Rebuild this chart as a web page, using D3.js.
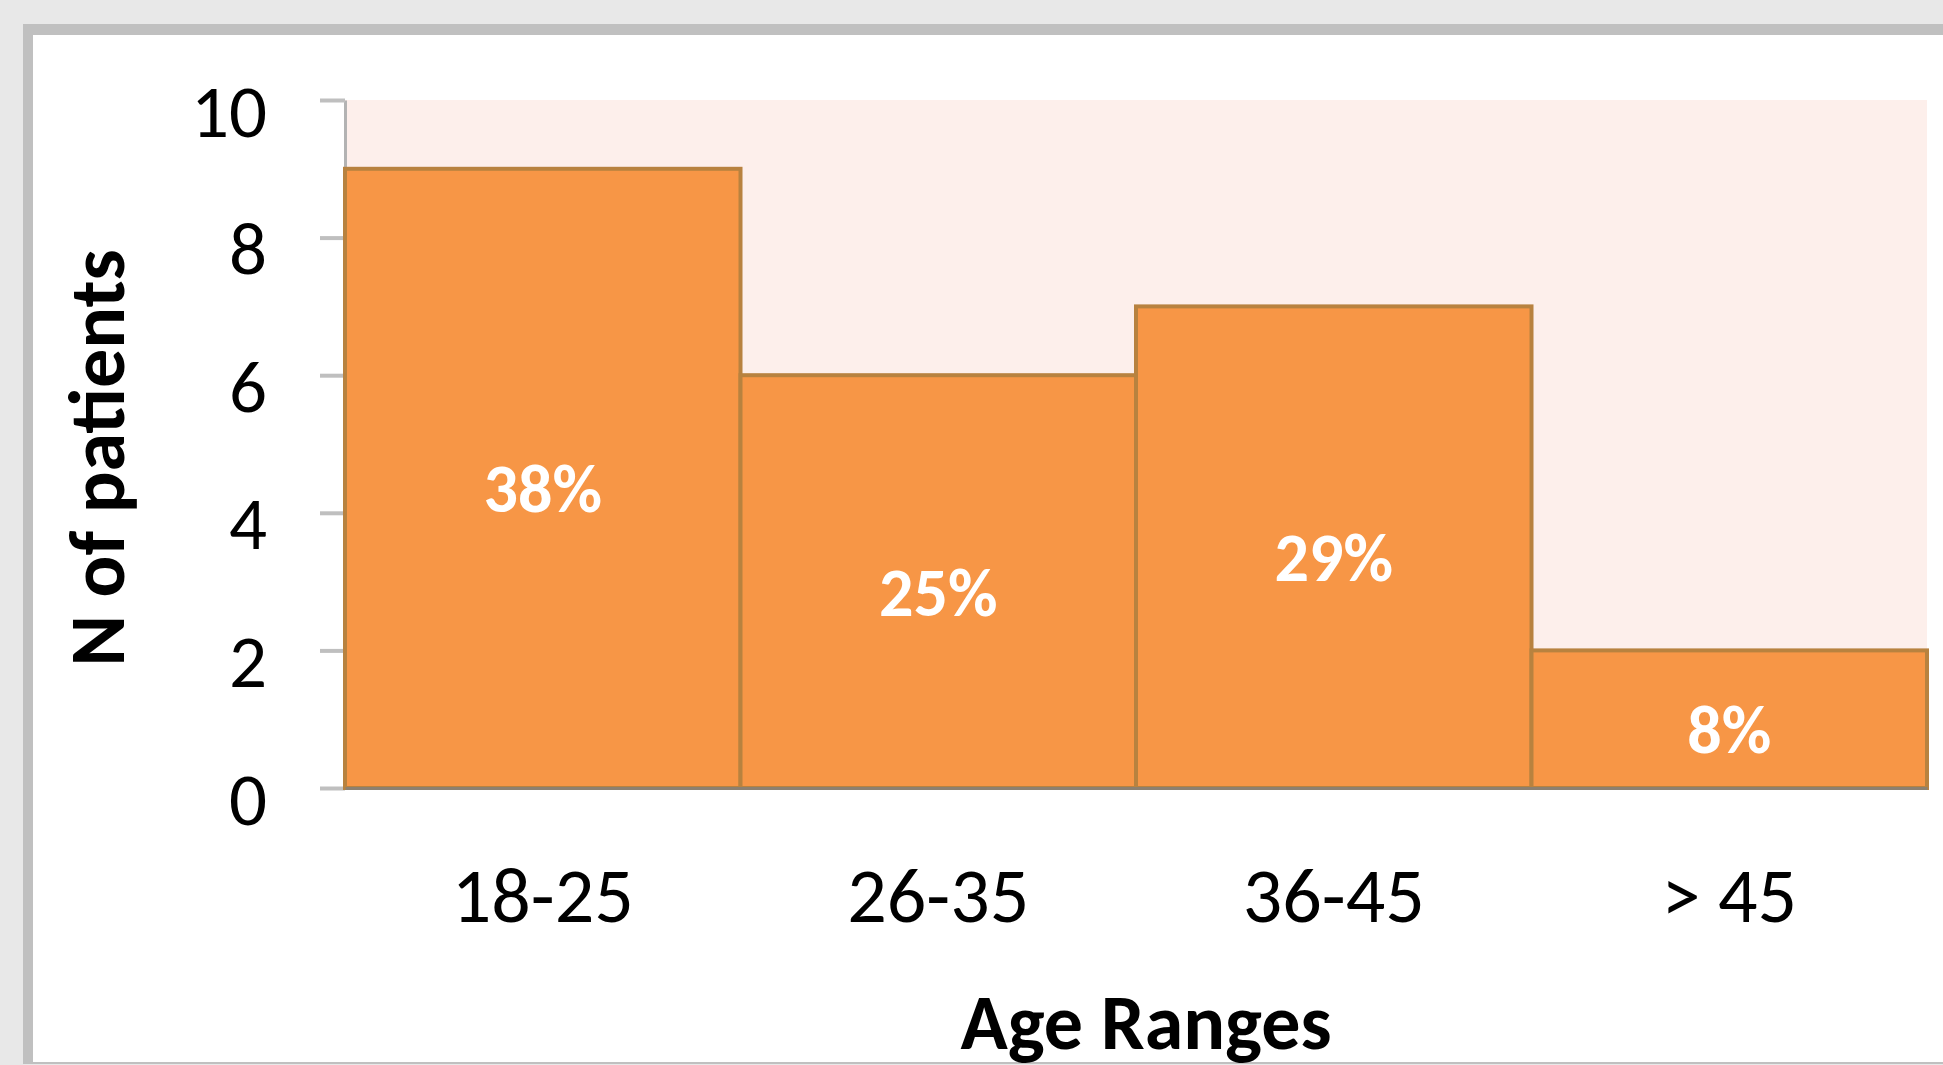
<!DOCTYPE html>
<html>
<head>
<meta charset="utf-8">
<script src="https://cdn.jsdelivr.net/npm/d3@7"></script>
<style>
  html, body { margin: 0; padding: 0; background: #e8e8e8; }
  svg { display: block; }
  text { font-family: Carlito, Calibri, Lato, sans-serif; }
</style>
</head>
<body>
<svg id="chart"></svg>
<script>
// data
const ageRanges = ['18-25', '26-35', '36-45', '> 45']
const patients = [9, 6, 7, 2]
const shares = ['38%', '25%', '29%', '8%']
const yTicks = [0, 2, 4, 6, 8, 10]

const width = 1943
const height = 1065
const plotLeft = 345
const plotRight = 1927
const plotTop = 100
const plotBottom = 788

const svg = d3.select('#chart')
    .attr('width', width)
    .attr('height', height)

// grey page + framed white chart area
svg.append('rect')
    .attr('width', width)
    .attr('height', height)
    .attr('fill', '#e8e8e8')
svg.append('rect')
    .attr('x', 23).attr('y', 24)
    .attr('width', width).attr('height', 1040)
    .attr('fill', '#c0c0c0')
svg.append('rect')
    .attr('x', 33).attr('y', 35)
    .attr('width', width).attr('height', 1027)
    .attr('fill', '#ffffff')

const xScale = d3.scaleBand()
    .domain(ageRanges)
    .range([plotLeft, plotRight])
    .padding(0)

const yScale = d3.scaleLinear()
    .domain([0, 10])
    .range([plotBottom, plotTop])

// plot area background
svg.append('rect')
    .attr('x', plotLeft)
    .attr('y', plotTop)
    .attr('width', plotRight - plotLeft)
    .attr('height', plotBottom - plotTop)
    .attr('fill', '#fdefeb')

// y axis
const yAxis = svg.append('g')
    .attr('transform', `translate(${plotLeft}, 0)`)
    .call(d3.axisLeft(yScale).tickValues(yTicks).tickSize(25).tickSizeOuter(0).tickPadding(53))
yAxis.select('.domain')
    .attr('stroke', '#b3b3b3')
    .attr('stroke-width', 3)
yAxis.selectAll('.tick line')
    .attr('stroke', '#bfbfbf')
    .attr('stroke-width', 4)
yAxis.selectAll('.tick text')
    .attr('dy', 36)
    .attr('font-size', 75)
    .attr('fill', '#000')
    .style('font-family', 'Carlito, Calibri, Lato, sans-serif')

// bars
const bars = svg.append('g')
bars.selectAll('rect')
    .data(patients)
    .join('rect')
    .attr('x', (d, i) => xScale(ageRanges[i]))
    .attr('y', d => yScale(d))
    .attr('width', xScale.bandwidth())
    .attr('height', d => yScale(0) - yScale(d))
    .attr('fill', '#f79646')
    .attr('stroke', '#b8823f')
    .attr('stroke-width', 4)

// percentage labels
bars.selectAll('text')
    .data(patients)
    .join('text')
    .attr('x', (d, i) => xScale(ageRanges[i]) + xScale.bandwidth() / 2)
    .attr('y', d => (yScale(d) + yScale(0)) / 2 + 34)
    .attr('text-anchor', 'middle')
    .attr('font-size', 68)
    .attr('font-weight', 'bold')
    .attr('fill', '#ffffff')
    .text((d, i) => shares[i])

// x axis
const xAxis = svg.append('g')
    .attr('transform', `translate(0, ${plotBottom})`)
    .call(d3.axisBottom(xScale).tickSize(0).tickPadding(0))
xAxis.select('.domain')
    .attr('stroke', '#8c8070')
    .attr('stroke-width', 3)
xAxis.selectAll('.tick text')
    .attr('y', 134)
    .attr('dy', 0)
    .attr('font-size', 78)
    .attr('fill', '#000')
    .style('font-family', 'Carlito, Calibri, Lato, sans-serif')

// axis titles
svg.append('text')
    .attr('x', 1146)
    .attr('y', 1049)
    .attr('text-anchor', 'middle')
    .attr('font-size', 78)
    .attr('font-weight', 'bold')
    .text('Age Ranges')

svg.append('text')
    .attr('transform', 'translate(124, 458) rotate(-90)')
    .attr('text-anchor', 'middle')
    .attr('font-size', 78)
    .attr('font-weight', 'bold')
    .text('N of patients')
</script>
</body>
</html>
